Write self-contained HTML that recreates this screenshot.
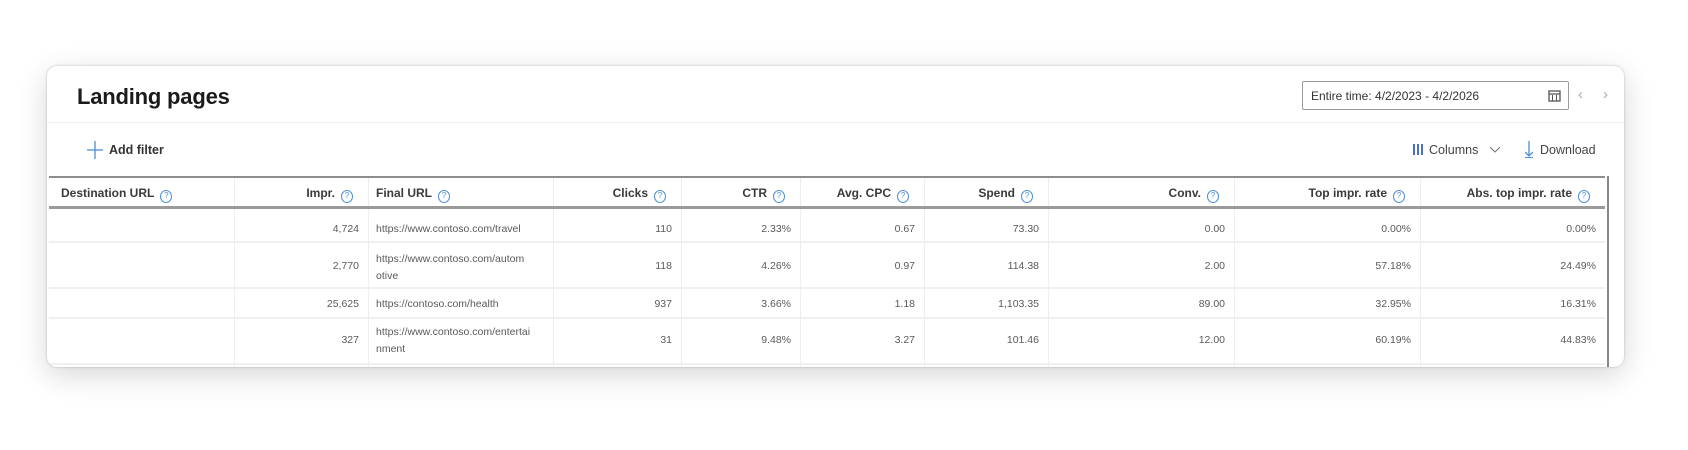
<!DOCTYPE html>
<html><head><meta charset="utf-8"><style>
*{margin:0;padding:0;box-sizing:border-box}
body{width:1688px;height:450px;background:#fff;font-family:"Liberation Sans",sans-serif;position:relative;overflow:hidden}
.card{position:absolute;left:47px;top:66px;width:1577px;height:301px;background:#fff;border-radius:10px;box-shadow:0 8px 30px rgba(0,0,0,.16),0 0 2px rgba(0,0,0,.25);overflow:hidden}
.abs{position:absolute}
.title{left:30px;top:18px;font-size:22px;font-weight:bold;color:#1b1b1b;letter-spacing:-.2px}
.sep{left:0;top:56px;width:100%;height:1px;background:#f0f0f0}
.date{left:1255px;top:15px;width:267px;height:29px;border:1px solid #9a9a9a;border-radius:2px;font-size:12px;color:#333;padding:7px 0 0 8px}
.tb{font-size:12.5px;color:#222}
.hdr{top:110px;height:33px;left:2px;width:1556px;border-top:2px solid #8d8d8d;border-bottom:3px solid #9a9a9a}
.h{position:absolute;font-size:12px;font-weight:bold;color:#3a3a3a;white-space:nowrap}
.q{display:inline-block;width:12px;height:13px;border:1.3px solid #4a8fd8;border-radius:50%;font-size:8px;color:#4a8fd8;text-align:center;line-height:10px;margin-left:6px;vertical-align:-1px;font-weight:normal}
.d{position:absolute;font-size:10.5px;color:#5a5a5a;white-space:nowrap}
.rl{position:absolute;left:2px;width:1556px;height:2px;background:#f0f0f0}
.vl{position:absolute;top:112px;height:191px;width:1px;background:#eee}
</style></head><body>
<div class="card">
<div class="abs title">Landing pages</div>
<div class="abs sep"></div>
<div class="abs date">Entire time: 4/2/2023 - 4/2/2026
<svg style="position:absolute;right:7px;top:7px" width="13" height="13"><rect x="1" y="2" width="11" height="10" fill="none" stroke="#555" stroke-width="1.3"/><line x1="1" y1="5" x2="12" y2="5" stroke="#555" stroke-width="1.3"/><line x1="4.5" y1="6" x2="4.5" y2="12" stroke="#555"/><line x1="8.5" y1="6" x2="8.5" y2="12" stroke="#555"/></svg></div>
<div class="abs" style="left:1531px;top:20px;color:#aaa;font-size:15px">&#8249;</div>
<div class="abs" style="left:1556px;top:20px;color:#aaa;font-size:15px">&#8250;</div>
<svg class="abs" style="left:40px;top:75px" width="16" height="18"><line x1="8" y1="0" x2="8" y2="18" stroke="#4a8fd8" stroke-width="1.3"/><line x1="0" y1="9" x2="16" y2="9" stroke="#4a8fd8" stroke-width="1.3"/></svg>
<div class="abs tb" style="left:62px;top:77px;font-weight:bold;color:#333">Add filter</div>
<svg class="abs" style="left:1366px;top:78px" width="10" height="11"><rect x="0" y="0" width="2" height="11" fill="#4a6fd0"/><rect x="4" y="0" width="2" height="11" fill="#4a6fd0"/><rect x="8" y="0" width="2" height="11" fill="#4a6fd0"/></svg>
<div class="abs tb" style="left:1382px;top:77px;color:#444">Columns</div>
<svg class="abs" style="left:1443px;top:81px" width="10" height="6"><polyline points="0,0 5,5 10,0" fill="none" stroke="#777"/></svg>
<svg class="abs" style="left:1478px;top:75px" width="8" height="17"><line x1="4" y1="0" x2="4" y2="15" stroke="#4a8fd8" stroke-width="1.3"/><polyline points="0,11 4,15 8,11" fill="none" stroke="#4a8fd8" stroke-width="1.3"/><line x1="0" y1="16.5" x2="8" y2="16.5" stroke="#4a8fd8"/></svg>
<div class="abs tb" style="left:1493px;top:77px;color:#444">Download</div>

<div class="vl" style="left:187px"></div><div class="vl" style="left:321px"></div><div class="vl" style="left:506px"></div><div class="vl" style="left:634px"></div><div class="vl" style="left:753px"></div><div class="vl" style="left:877px"></div><div class="vl" style="left:1001px"></div><div class="vl" style="left:1187px"></div><div class="vl" style="left:1373px"></div>
<div class="abs hdr"></div>
<div class="h" style="left:14px;top:120px">Destination URL<span class="q">?</span></div>
<div class="h" style="right:1271px;top:120px">Impr.<span class="q">?</span></div>
<div class="h" style="left:329px;top:120px">Final URL<span class="q">?</span></div>
<div class="h" style="right:958px;top:120px">Clicks<span class="q">?</span></div>
<div class="h" style="right:839px;top:120px">CTR<span class="q">?</span></div>
<div class="h" style="right:715px;top:120px">Avg. CPC<span class="q">?</span></div>
<div class="h" style="right:591px;top:120px">Spend<span class="q">?</span></div>
<div class="h" style="right:405px;top:120px">Conv.<span class="q">?</span></div>
<div class="h" style="right:219px;top:120px">Top impr. rate<span class="q">?</span></div>
<div class="h" style="right:34px;top:120px">Abs. top impr. rate<span class="q">?</span></div>

<div class="rl" style="top:175px"></div><div class="rl" style="top:221px"></div><div class="rl" style="top:251px"></div><div class="rl" style="top:297px"></div>

<div class="d" style="right:1265px;top:157px">4,724</div><div class="d" style="left:329px;top:157px">https://www.contoso.com/travel</div><div class="d" style="right:952px;top:157px">110</div><div class="d" style="right:833px;top:157px">2.33%</div><div class="d" style="right:709px;top:157px">0.67</div><div class="d" style="right:585px;top:157px">73.30</div><div class="d" style="right:399px;top:157px">0.00</div><div class="d" style="right:213px;top:157px">0.00%</div><div class="d" style="right:28px;top:157px">0.00%</div>

<div class="d" style="right:1265px;top:194px">2,770</div><div class="d" style="left:329px;top:185px;line-height:17px">https://www.contoso.com/autom<br>otive</div><div class="d" style="right:952px;top:194px">118</div><div class="d" style="right:833px;top:194px">4.26%</div><div class="d" style="right:709px;top:194px">0.97</div><div class="d" style="right:585px;top:194px">114.38</div><div class="d" style="right:399px;top:194px">2.00</div><div class="d" style="right:213px;top:194px">57.18%</div><div class="d" style="right:28px;top:194px">24.49%</div>

<div class="d" style="right:1265px;top:232px">25,625</div><div class="d" style="left:329px;top:232px">https://contoso.com/health</div><div class="d" style="right:952px;top:232px">937</div><div class="d" style="right:833px;top:232px">3.66%</div><div class="d" style="right:709px;top:232px">1.18</div><div class="d" style="right:585px;top:232px">1,103.35</div><div class="d" style="right:399px;top:232px">89.00</div><div class="d" style="right:213px;top:232px">32.95%</div><div class="d" style="right:28px;top:232px">16.31%</div>

<div class="d" style="right:1265px;top:268px">327</div><div class="d" style="left:329px;top:258px;line-height:17px">https://www.contoso.com/entertai<br>nment</div><div class="d" style="right:952px;top:268px">31</div><div class="d" style="right:833px;top:268px">9.48%</div><div class="d" style="right:709px;top:268px">3.27</div><div class="d" style="right:585px;top:268px">101.46</div><div class="d" style="right:399px;top:268px">12.00</div><div class="d" style="right:213px;top:268px">60.19%</div><div class="d" style="right:28px;top:268px">44.83%</div>
<div class="abs" style="left:1560px;top:110px;width:2px;height:191px;background:#888"></div>
</div>
</body></html>
